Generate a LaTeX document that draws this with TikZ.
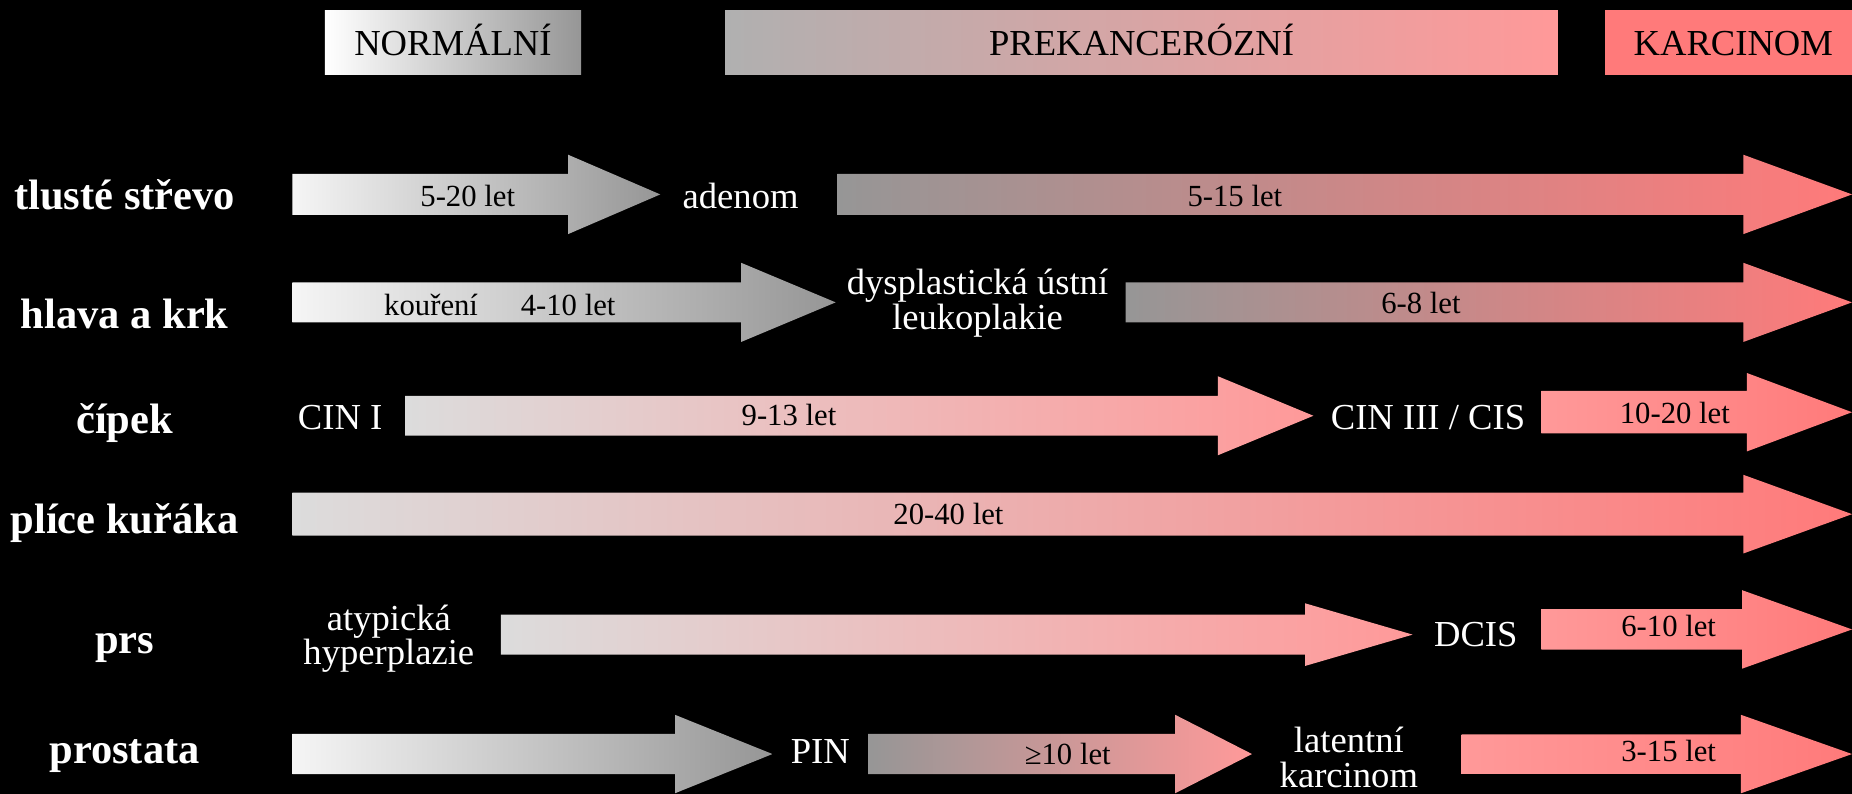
\documentclass[tikz,border=0pt]{standalone}
\usepackage{fontspec}
\setmainfont{Liberation Serif}

\definecolor{paleg}{HTML}{F5F5F5}
\definecolor{lightg}{HTML}{DCDCDC}
\definecolor{boxg}{HTML}{B0B0B0}
\definecolor{midg}{HTML}{969696}
\definecolor{pinkc}{HTML}{FF9999}
\definecolor{redc}{HTML}{FF7A7A}

% block arrow: start, head start, tip, centre y, shaft half, head half, left colour, right colour
\newcommand{\blockarrow}[8]{%
  \shade[left color=#7, right color=#8]
    (#1,#4-#5) -- (#2,#4-#5) -- (#2,#4-#6) -- (#3,#4)
    -- (#2,#4+#6) -- (#2,#4+#5) -- (#1,#4+#5) -- cycle;}

\tikzset{
  hdr/.style={font=\fontsize{31}{33}\selectfont, text=black, anchor=base},
  rowlab/.style={font=\bfseries\fontsize{36}{38}\selectfont, text=white, anchor=base},
  stage/.style={font=\fontsize{31}{29.5}\selectfont, text=white, align=center, anchor=base},
  yrs/.style={font=\fontsize{26}{28}\selectfont, text=black, anchor=base}
}

\begin{document}
\begin{tikzpicture}[x=1pt,y=-1pt, inner sep=0pt]
  \useasboundingbox (0,0) rectangle (1568,672);
  \fill[black] (0,0) rectangle (1568,672);

  % header
  \shade[left color=white, right color=midg] (275,8.5) rectangle (492,63.2);
  \shade[left color=boxg, right color=pinkc] (614,8.5) rectangle (1319,63.2);
  \fill[redc] (1359,8.5) rectangle (1576,63.2);
  \node[hdr] (normal) at (383.5,47) {NORMÁLNÍ};
  \node[hdr] (prekanc) at (966.5,47) {PREKANCERÓZNÍ};
  \node[hdr] (karc) at (1467.5,47) {KARCINOM};

  % row names
  \node[rowlab] (colon)   at (105.5,177) {tlusté střevo};
  \node[rowlab] (headneck) at (105.5,278)  {hlava a krk};
  \node[rowlab] (cervix)  at (105.5,366.9) {čípek};
  \node[rowlab] (lung)    at (105.5,452)   {plíce kuřáka};
  \node[rowlab] (breast)  at (105.5,553)   {prs};
  \node[rowlab] (prost)   at (105.5,646.3) {prostata};

  % tlusté střevo
  \blockarrow{247.5}{481}{559}{164.6}{17.3}{33.6}{paleg}{midg}
  \blockarrow{709}{1476}{1568}{164.6}{17.3}{33.6}{midg}{redc}
  \node[yrs] (colyrsa) at (396,174.5) {5-20 let};
  \node[stage] (adenom) at (627,176.5) {adenom};
  \node[yrs] (colyrsb) at (1045.5,174.5) {5-15 let};

  % hlava a krk
  \blockarrow{247.5}{627.5}{707.5}{256}{17}{33.5}{paleg}{midg}
  \blockarrow{953}{1476}{1568}{256}{17}{33.5}{midg}{redc}
  \node[yrs] (smoking) at (365,266.7) {kouření};
  \node[yrs] (hnyrsa) at (481,266.7) {4-10 let};
  \node[stage] (leuko) at (827.6,278.8) {dysplastická ústní\\leukoplakie};
  \node[yrs] (hnyrsb) at (1203,265) {6-8 let};

  % čípek
  \blockarrow{343}{1031}{1112}{352}{16.8}{33.5}{lightg}{pinkc}
  \blockarrow{1305}{1479}{1568}{349}{18}{33.2}{pinkc}{redc}
  \node[stage] (cin) at (288,364) {CIN I};
  \node[yrs] (cxyrsa) at (668,360) {9-13 let};
  \node[stage] (cis) at (1209,364) {CIN III / CIS};
  \node[yrs] (cxyrsb) at (1418,358.4) {10-20 let};

  % plíce kuřáka
  \blockarrow{247.5}{1476}{1568}{435.3}{18.2}{33.3}{lightg}{redc}
  \node[yrs] (lungyrs) at (803,444) {20-40 let};

  % prs
  \blockarrow{424}{1105}{1196}{537.3}{17}{26.5}{lightg}{pinkc}
  \blockarrow{1305}{1475}{1568}{532.9}{17.2}{33.2}{pinkc}{redc}
  \node[stage] (atyp) at (329.2,563) {atypická\\hyperplazie};
  \node[stage] (dcis) at (1249.5,547.5) {DCIS};
  \node[yrs] (bryrs) at (1412.75,539) {6-10 let};

  % prostata
  \blockarrow{247.5}{571.5}{654}{638.4}{17}{33.2}{paleg}{midg}
  \blockarrow{735}{995}{1060}{638.4}{17}{33.2}{midg}{pinkc}
  \blockarrow{1237.5}{1474}{1568}{638.4}{16.7}{33.2}{pinkc}{redc}
  \node[stage] (pin) at (694.5,646.3) {PIN};
  \node[yrs] (pryrsa) at (904,647) {≥10 let};
  \node[stage] (latent) at (1142,666.6) {latentní\\karcinom};
  \node[yrs] (pryrsb) at (1412.75,645) {3-15 let};
\end{tikzpicture}
\end{document}
